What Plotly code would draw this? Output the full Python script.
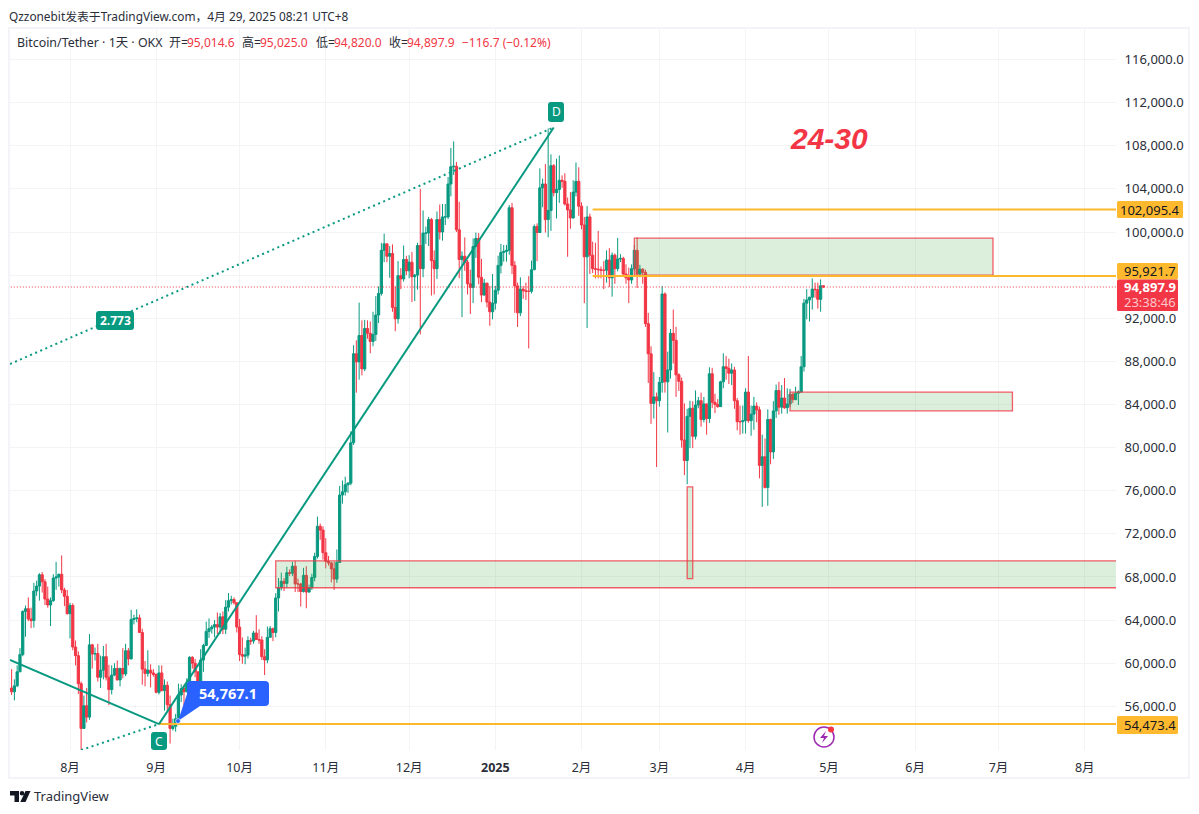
import pandas as pd
import plotly.graph_objects as go

FONT = "Noto Sans, Noto Sans CJK SC, sans-serif"
GREEN = "#089981"
RED = "#F23645"
YELLOW = "#FFB92E"
LINE_YELLOW = "#FBB82A"
TEXT = "#131722"
SOFT = "#2A2E39"

opens = [
57700,57350,57900,59200,60800,64800,65050,64100,63950,66700,67150,68200,67550,65950,65400,65800,67900,68000,68250,66800,66200,
64600,65350,61500,60700,58100,53950,56050,55000,61700,60850,60900,58700,59350,60600,58700,57550,58900,59500,58450,59500,59000,61150,60400,64050,64150,64200,62850,59450,59050,59350,59100,
58950,57300,59100,57450,57950,56150,53950,54150,54850,57050,57650,57350,58150,60550,60000,59200,58200,60300,61650,62950,63200,63350,63580,63350,64300,63150,65200,65800,65900,65600,
63350,60800,60650,60750,62100,62050,62800,62200,62150,60600,60300,62400,63200,62850,66050,67000,67600,67400,68400,68350,69000,67350,67350,66650,68150,66600,67000,67950,69900,72700,72350,
70250,69450,69300,68750,67800,69350,75600,75900,76550,76700,80450,88700,87950,90400,87300,91050,90600,89850,90500,92300,94300,98300,98900,97750,98000,93000,91950,95950,95650,97450,
96400,97200,95850,96000,98750,96600,99900,99900,101150,97350,96600,101150,100000,101400,101400,104450,106050,106100,100200,97450,97750,97200,95200,94850,98650,99400,95800,94150,95250,93500,92600,
93400,94600,96900,98100,98200,98300,102250,96900,95000,92500,94700,94550,94500,94500,96500,100500,99950,104100,104450,101150,102000,106150,103650,103950,104800,104700,102600,102050,101300,103700,104700,
102400,100650,97700,101400,97850,96600,96550,96500,96450,96450,97400,95750,97850,96600,97500,97550,96100,95750,95550,96600,98300,96100,96550,96250,91500,88700,84100,84700,
84350,86050,94250,86100,87200,90600,89950,86750,86150,80700,78800,82900,83650,81050,83950,84350,82600,84050,82700,86850,84200,84000,83800,86100,87500,87350,86900,87200,84350,82400,82400,
82500,85150,82500,83100,83850,83500,78350,79150,76300,82600,79600,83400,85300,83750,84600,83700,84050,84950,84450,85050,85150,87500,93400,93700,93950,94700,94650,93750,95014.6]

highs = [
59450,58500,59800,61400,64900,65350,66100,65150,67450,67650,68350,68450,67800,67100,66100,68250,69400,68300,70000,67000,66800,
65600,65550,62100,61100,58300,57000,57700,62700,61800,61450,61800,60700,61600,61800,59850,59800,60000,60250,59600,61400,61800,61400,64950,64500,65000,64500,63200,60200,61200,59900,59450,
59050,59800,59800,58500,58300,57000,54850,55300,58100,58050,58000,58600,60650,60650,60400,59200,61300,61800,63850,64150,63550,64000,64700,64650,64800,65850,66500,66250,66100,65650,
64100,62400,61450,62500,62350,63000,64450,63150,62500,61300,63400,63450,63300,66500,67900,68400,67900,68950,68700,69400,69500,67850,67450,68850,69000,67300,68300,70250,73600,72950,72700,
71600,69950,69400,69450,70550,76450,76950,77300,76800,81500,89500,89950,93450,91800,91850,91800,91700,92600,94050,94950,99000,99850,98950,98700,98850,94950,97300,96650,98750,97800,
97850,98150,96100,99000,104000,102000,100500,101400,101300,98300,101900,102550,102600,102600,105100,107800,108400,106500,102800,98200,99500,97400,96500,99400,99950,99900,97500,95650,95300,95000,96100,
95000,97800,98900,98800,98800,102500,102700,97300,95300,95800,95000,95300,95900,97350,100700,100800,105900,104950,106300,109600,107200,106300,106800,107100,105250,105450,103200,103700,104800,106450,106000,
102750,101400,102400,101700,99100,99000,100100,96800,97300,98300,98500,98100,98000,99450,97950,97700,97000,96700,97000,98800,99500,96950,96650,96500,92500,89400,87000,85100,
86550,95000,94400,88900,91000,92800,91200,86900,86500,84100,83600,84350,84300,85300,84700,85100,84700,84100,87450,87400,85000,84500,86200,88750,88500,88250,87800,87500,84600,83900,83900,
85500,88500,83900,84700,84200,83800,81200,80850,83550,82700,84300,85850,86100,85800,86450,85500,85450,85100,85650,85300,88500,93800,94700,94000,95700,95300,95300,95600,95025]

lows = [
57050,56550,57800,59200,60650,62450,63900,63250,63300,66250,65800,66550,65400,65150,63450,65700,66800,67100,66500,65300,64500,
62300,61200,59800,57150,49000,53950,54500,54750,59500,60250,58300,57700,58500,58400,56100,57100,58800,58400,57850,58600,58800,59800,60350,63600,63800,62800,58000,57850,58750,57750,58750,
57200,57100,57400,55600,55600,52550,53750,53650,54600,56400,55550,57300,57650,59500,58700,57500,57600,59200,61600,62350,62750,62400,62700,62700,62700,62700,64800,65450,65450,62850,
60200,59950,59900,60450,61700,61800,62150,61800,60300,58900,60000,62400,62050,62400,64800,66750,66700,67000,68100,68100,66600,66600,65250,66550,65100,66550,66800,67600,69700,71450,69600,
68800,69050,67500,66800,67450,69300,74800,75550,75800,76500,80250,85100,86300,86700,87100,90100,88750,89400,89900,91550,94100,97200,97200,95750,92600,90800,91500,94700,95400,96000,
95700,93500,93600,94650,90500,95800,98900,98700,94100,94200,95650,99300,99200,100650,101200,103300,105300,100000,95700,92100,96400,94200,92400,93400,97600,95150,93500,94100,93000,91300,91900,
92800,94200,96150,97250,97250,97900,96100,92500,91200,92200,93800,93700,89200,94300,96500,97300,99950,102300,99950,99500,100100,103300,101250,102700,104100,102450,97700,100300,101250,103300,101500,
100250,93400,91100,96100,96200,95700,95700,95700,94700,95300,94900,94000,95200,96350,97200,96000,95200,93400,95200,96400,94800,95800,95200,91200,86000,82200,82700,78200,
83800,85100,85100,81400,86400,87800,84700,85250,80000,77450,76600,79950,79950,80750,83650,81950,82350,81200,82300,83650,83200,83700,83800,85500,86300,85900,85800,83600,81600,81200,81300,
81300,82300,81100,81650,82350,77150,74500,76200,74600,78450,78950,82750,83050,83150,83600,83150,83750,84150,84400,83950,85100,87050,91900,91700,92800,93900,92900,92600,94820]

closes = [
57350,57900,59200,60800,64800,65050,64100,63950,66700,67150,68200,67550,65950,65400,65800,67900,68000,68250,66800,66200,64600,
65350,61500,60700,58100,53950,56050,55000,61700,60850,60900,58700,59350,60600,58700,57550,58900,59500,58450,59500,59000,61150,60400,64050,64150,64200,62850,59450,59050,59350,59100,58950,
57300,59100,57450,57950,56150,53950,54150,54850,57050,57650,57350,58150,60550,60000,59200,58200,60300,61650,62950,63200,63350,63580,63350,64300,63150,65200,65800,65900,65600,63350,
60800,60650,60750,62100,62050,62800,62200,62150,60600,60300,62400,63200,62850,66050,67000,67600,67400,68400,68350,69000,67350,67350,66650,68150,66600,67000,67950,69900,72700,72350,70250,
69450,69300,68750,67800,69350,75600,75900,76550,76700,80450,88700,87950,90400,87300,91050,90600,89850,90500,92300,94300,98300,98900,97750,98000,93000,91950,95950,95650,97450,96400,
97200,95850,96000,98750,96600,99900,99900,101150,97350,96600,101150,100000,101400,101400,104450,106050,106100,100200,97450,97750,97200,95200,94850,98650,99400,95800,94150,95250,93500,92600,93400,
94600,96900,98100,98200,98300,102250,96900,95000,92500,94700,94550,94500,94500,96500,100500,99950,104100,104450,101150,102000,106150,103650,103950,104800,104700,102600,102050,101300,103700,104700,102400,
100650,97700,101400,97850,96600,96550,96500,96450,96450,97400,95750,97850,96600,97500,97550,96100,95750,95550,96600,98300,96100,96550,96250,91500,88700,84100,84700,84350,
86050,94250,86100,87200,90600,89950,86750,86150,80700,78800,82900,83650,81050,83950,84350,82600,84050,82700,86850,84200,84000,83800,86100,87500,87350,86900,87200,84350,82400,82400,82500,
85150,82500,83100,83850,83500,78350,79150,76300,82600,79600,83400,85300,83750,84600,83700,84050,84950,84450,85050,85150,87500,93400,93700,93950,94700,94650,93750,95014.6,94897.9]

first_date = "2024-07-11"
price_ticks = [116000,112000,108000,104000,100000,96000,92000,88000,84000,80000,76000,72000,68000,64000,60000,56000]
price_labels = ["116,000.0","112,000.0","108,000.0","104,000.0","100,000.0","","92,000.0","88,000.0","84,000.0","80,000.0","76,000.0","72,000.0","68,000.0","64,000.0","60,000.0","56,000.0"]
month_ticks = ["2024-08-01","2024-09-01","2024-10-01","2024-11-01","2024-12-01","2025-01-01","2025-02-01","2025-03-01","2025-04-01","2025-05-01","2025-06-01","2025-07-01","2025-08-01"]
month_labels = ["8月","9月","10月","11月","12月","<b>2025</b>","2月","3月","4月","5月","6月","7月","8月"]

level_low = 54473.4
level_low_drawn = 54350
level_mid = 95921.7
level_high = 102095.4
last_price = 94897.9
zones = [
    ("2025-02-20", "2025-06-29", 95990, 99440),
    ("2025-04-17", "2025-07-06", 83400, 85150),
    ("2024-10-14", "2025-09-01", 67000, 69500),
    ("2025-03-11", "2025-03-13", 67850, 76350),
]

dates = pd.date_range(first_date, periods=len(closes), freq="D")

# pixel layout of the panel
L, R, T, B = 10, 1116, 29, 750
W, H = 1199, 814


def px(x):
    return (x - L) / (R - L)


def py(y):
    return (B - y) / (B - T)


def rrect(x0, y0, x1, y1, r, fill, line=None, lw=0):
    p = (f"M {px(x0+r)} {py(y0)} L {px(x1-r)} {py(y0)} Q {px(x1)} {py(y0)} {px(x1)} {py(y0+r)} "
         f"L {px(x1)} {py(y1-r)} Q {px(x1)} {py(y1)} {px(x1-r)} {py(y1)} L {px(x0+r)} {py(y1)} "
         f"Q {px(x0)} {py(y1)} {px(x0)} {py(y1-r)} L {px(x0)} {py(y0+r)} Q {px(x0)} {py(y0)} {px(x0+r)} {py(y0)} Z")
    return dict(type="path", xref="paper", yref="paper", path=p, fillcolor=fill,
                line=dict(color=line or fill, width=lw), layer="above")


def poly(points, fill=None, line=None, lw=0):
    p = "M " + " L ".join(f"{px(a)} {py(b)}" for a, b in points) + (" Z" if fill else "")
    return dict(type="path", xref="paper", yref="paper", path=p,
                fillcolor=fill or "rgba(0,0,0,0)", line=dict(color=line or "rgba(0,0,0,0)", width=lw), layer="above")


def circle(cx, cy, r, fill=None, line=None, lw=0):
    return dict(type="circle", xref="paper", yref="paper", x0=px(cx-r), x1=px(cx+r), y0=py(cy+r), y1=py(cy-r),
                fillcolor=fill or "rgba(0,0,0,0)", line=dict(color=line or "rgba(0,0,0,0)", width=lw), layer="above")


def text(x, y, s, size=12, color=TEXT, anchor="left", family=FONT):
    return dict(xref="paper", yref="paper", x=px(x), y=py(y), text=s, showarrow=False, xanchor=anchor, yanchor="middle",
                font=dict(size=size, color=color, family=family), borderpad=0, borderwidth=0)


def dline(x0, y0, x1, y1, color, width, dash="solid"):
    return dict(type="line", xref="x", yref="y", x0=x0, x1=x1, y0=y0, y1=y1,
                line=dict(color=color, width=width, dash=dash), layer="above")


shapes = []
# panel frame
shapes.append(dict(type="rect", xref="paper", yref="paper", x0=px(9), x1=px(1189), y0=py(778), y1=py(28),
                   line=dict(color="#EFF1F5", width=1.5), fillcolor="rgba(0,0,0,0)", layer="below"))
# zones
for z in zones:
    shapes.append(dict(type="rect", xref="x", yref="y", x0=z[0], x1=z[1], y0=z[2], y1=z[3],
                       fillcolor="rgba(76,175,80,0.2)", line=dict(color="rgba(242,54,69,0.8)", width=1.3), layer="above"))
# price line
shapes.append(dline("2024-07-01", last_price, "2025-09-01", last_price, RED, 1, "1px,2px"))
# levels
shapes.append(dline("2024-09-02", level_low_drawn, "2025-09-01", level_low_drawn, LINE_YELLOW, 2))
shapes.append(dline("2025-02-05", level_mid, "2025-09-01", level_mid, LINE_YELLOW, 2))
shapes.append(dline("2025-02-05", level_high, "2025-09-01", level_high, LINE_YELLOW, 2))
# pattern lines
shapes.append(dline("2024-07-10 10:00", 60300, "2024-09-02", level_low_drawn, GREEN, 2))
shapes.append(dline("2024-09-02", level_low_drawn, "2025-01-22", 109700, GREEN, 2))
shapes.append(dline("2024-07-10 10:00", 87755, "2025-01-22", 109700, GREEN, 2, "2px,3.5px"))
shapes.append(dline("2024-08-05", 51950, "2024-09-02", level_low_drawn, GREEN, 2, "2px,3.5px"))
# pattern labels
shapes.append(rrect(548, 102, 564, 122, 3, GREEN))
shapes.append(rrect(151, 732, 167, 750, 3, GREEN))
shapes.append(rrect(96, 311, 134, 330, 3, GREEN))
# blue callout
shapes.append(poly([(187, 694), (178, 721), (200, 706)], fill="#2962FF"))
shapes.append(rrect(187, 681, 269, 706, 4, "#2962FF"))
shapes.append(circle(178, 721, 2.4, fill="#2962FF", line="#FFFFFF", lw=0.6))
# price tags
shapes.append(rrect(1117, 201, 1183, 218, 1.5, YELLOW))
shapes.append(rrect(1117, 263, 1178, 279.5, 1.5, YELLOW))
shapes.append(rrect(1117, 716, 1178, 734, 1.5, YELLOW))
shapes.append(rrect(1117, 279.5, 1178, 311, 1.5, RED))
# event icon
shapes.append(circle(824, 737, 10, fill="#FFFFFF", line="#9C27B0", lw=1.5))
shapes.append(poly([(826, 731), (820, 738), (824, 738), (822, 743), (828, 736), (824, 736)], fill="#9C27B0"))
shapes.append(circle(831, 729.5, 3, fill=RED))
# TradingView logo
shapes.append(poly([(10, 791), (19, 791), (19, 802), (14.5, 802), (14.5, 795.5), (10, 795.5)], fill=TEXT))
shapes.append(circle(22, 793.3, 2.3, fill=TEXT))
shapes.append(poly([(25.5, 791), (30.5, 791), (25.5, 802), (20.3, 802)], fill=TEXT))

annotations = [
    text(9, 16, "Qzzonebit发表于TradingView.com，4月 29, 2025 08:21 UTC+8", 11.85, SOFT),
    text(17, 43, "Bitcoin/Tether · 1天 · OKX", 12.4, SOFT),
    text(169, 43, "开=", 12, SOFT),
    text(187, 43, "95,014.6", 12, RED),
    text(242, 43, "高=", 12, SOFT),
    text(260, 43, "95,025.0", 12, RED),
    text(316, 43, "低=", 12, SOFT),
    text(334, 43, "94,820.0", 12, RED),
    text(389, 43, "收=", 12, SOFT),
    text(407, 43, "94,897.9", 12, RED),
    text(462, 43, "−116.7 (−0.12%)", 12, RED),
    text(828.5, 138, "<b><i>24-30</i></b>", 30, RED, "center", "Liberation Sans, sans-serif"),
    text(556, 112, "D", 12, "#FFFFFF", "center"),
    text(159, 741, "C", 12, "#FFFFFF", "center"),
    text(115, 320.5, "<b>2.773</b>", 12, "#FFFFFF", "center"),
    text(228, 693, "<b>54,767.1</b>", 14.5, "#FFFFFF", "center"),
    text(1120, 209.5, f"{level_high:,.1f}", 13, TEXT),
    text(1124, 271, f"{level_mid:,.1f}", 13, TEXT),
    text(1124, 724.5, f"{level_low:,.1f}", 13, TEXT),
    text(1124, 287, f"<b>{last_price:,.1f}</b>", 13, "#FFFFFF"),
    text(1124, 301.5, "23:38:46", 13, "#FBC6CB"),
    text(34, 796, "TradingView", 13, SOFT),
]

fig = go.Figure(go.Candlestick(
    x=dates, open=opens, high=highs, low=lows, close=closes,
    increasing=dict(line=dict(color=GREEN, width=1), fillcolor=GREEN),
    decreasing=dict(line=dict(color=RED, width=1), fillcolor=RED),
    whiskerwidth=0,
))

fig.update_layout(
    width=W, height=H, autosize=False,
    margin=dict(l=L, r=W - R, t=T, b=H - B, pad=0),
    paper_bgcolor="#FFFFFF", plot_bgcolor="#FFFFFF", boxgap=0.2, boxgroupgap=0,
    showlegend=False, font=dict(family=FONT, size=13, color=SOFT),
    shapes=shapes, annotations=annotations,
    xaxis=dict(type="date", range=["2024-07-10 10:00", "2025-08-12 06:00"], tickvals=month_ticks, ticktext=month_labels,
               tickangle=0, showgrid=True, gridcolor="#F3F4F6", gridwidth=1, zeroline=False, showline=False,
               rangeslider=dict(visible=False), ticks="outside", ticklen=6, tickcolor="rgba(0,0,0,0)",
               tickfont=dict(size=12.5, color=SOFT, family=FONT), fixedrange=True),
    yaxis=dict(side="right", range=[51948, 118831], tickvals=price_ticks, ticktext=price_labels,
               showgrid=True, gridcolor="#F3F4F6", gridwidth=1, zeroline=False, showline=False,
               ticks="outside", ticklen=5, tickcolor="rgba(0,0,0,0)",
               tickfont=dict(size=13, color=SOFT, family=FONT), fixedrange=True),
)

fig.write_html("out.html", config=dict(displayModeBar=False),
               post_script="document.body.style.margin='0';document.body.style.overflow='hidden';")
